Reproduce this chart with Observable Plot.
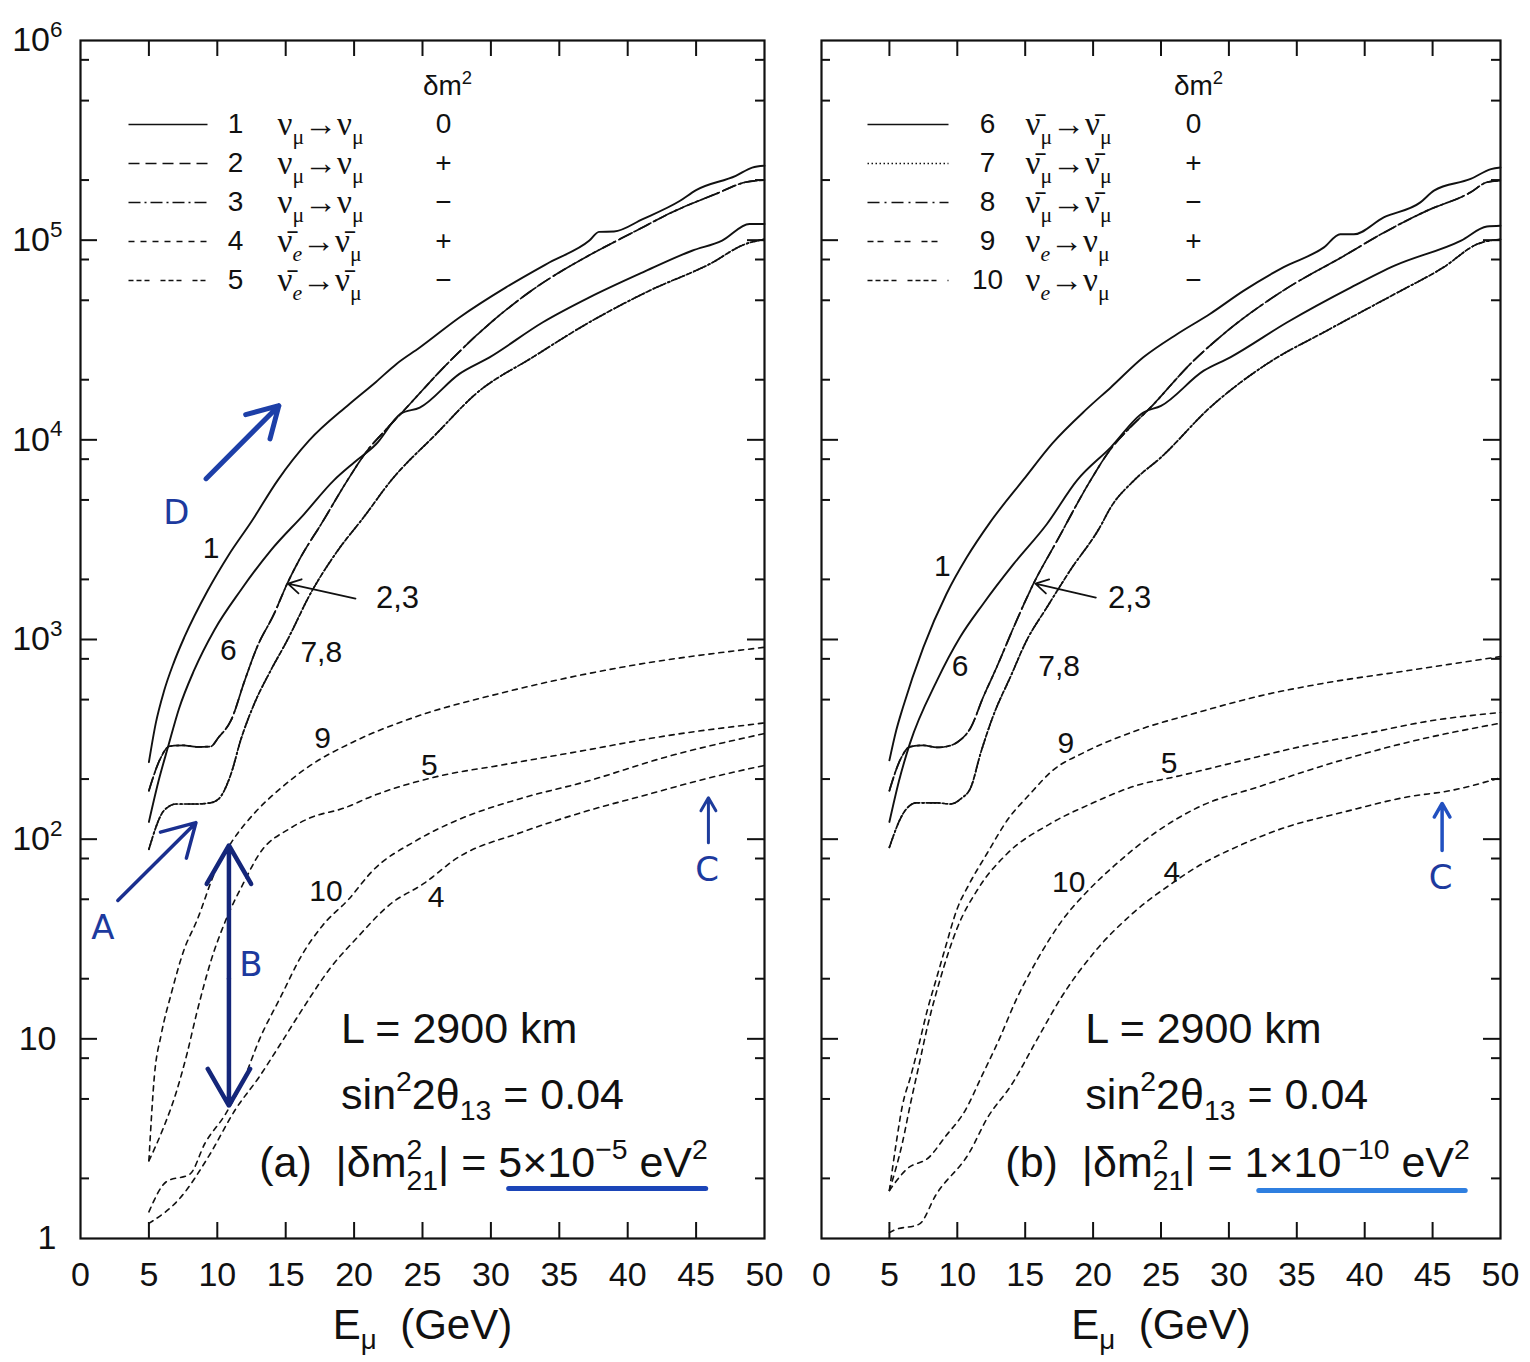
<!DOCTYPE html>
<html><head><meta charset="utf-8">
<script src="https://cdn.jsdelivr.net/npm/d3@7"></script>
<script src="https://cdn.jsdelivr.net/npm/@observablehq/plot@0.6"></script>
<style>
body{margin:0;background:#fff;}
#wrap{position:relative;width:1530px;height:1362px;background:#fff;}
#wrap svg{position:absolute;top:0;overflow:visible;}
</style></head><body><div id="wrap"></div>
<script>
// ---------- axis values ----------
const xTicks = [0,5,10,15,20,25,30,35,40,45,50];
const yMajor = [1,10,100,1e3,1e4,1e5,1e6];
const yMajorLabels = ["1","10","10{^2}","10{^3}","10{^4}","10{^5}","10{^6}"];
const yMinor = [1,10,100,1e3,1e4,1e5].flatMap(d => [2*d,5*d,8*d]);

// ---------- panel (a) curves: [E_mu (GeV), events] ----------
const a1 = [[5,243],[5.5,380],[6.1,550],[6.8,760],[7.6,1030],[9.3,1760],[10.8,2630],[12.5,3900],[14.4,6250],[16.7,9900],[19.6,15000],[21.6,19500],[23.1,24000],[24.8,29000],[27.7,41000],[31.1,58000],[34.3,77500],[37.2,99500],[37.9,110000],[39.0,110500],[41.1,127500],[43.8,157000],[45.0,178000],[47.9,210000],[49.1,231000],[50,236000]];
const a6 = [[5,122],[5.7,195],[6.4,290],[7.2,450],[8.3,700],[9.8,1120],[11.7,1760],[13.9,2790],[16.35,4250],[18.5,6250],[20.0,7700],[21.6,9500],[23.4,13500],[24.8,14500],[27.7,21400],[29.9,25900],[33.8,38800],[37.2,51700],[41.1,69000],[44.7,88500],[46.9,99500],[48.9,120500],[50,120500]];
const a23 = [[5,175],[5.8,250],[6.5,292],[7.5,295],[8.5,290],[9.5,291],[10.1,324],[11.0,393],[12.0,622],[12.9,914],[14.15,1343],[15.1,1897],[16.1,2584],[17.6,3790],[19.5,6250],[21.0,8900],[22.3,11200],[23.5,13700],[26.8,24000],[29.6,36600],[33.3,58000],[36.7,80500],[40.4,109500],[43.5,140600],[46.4,170000],[48.6,195000],[50,200000]];
const a78 = [[5,89],[6.1,139],[7.0,150],[8.5,150],[9.5,152],[10.1,159],[11.0,212],[11.7,312],[12.7,476],[13.9,699],[15.1,987],[16.8,1692],[18.8,2786],[20.7,4094],[22.7,6250],[26.0,10700],[28.9,17000],[33.05,25900],[37.2,38800],[41.6,55900],[46.0,76000],[48.6,95600],[50,101000]];
const a9 = [[5,2.45],[5.4,6.5],[5.9,10.5],[6.65,17],[7.55,27.7],[8.5,39],[10.0,73],[11.1,98],[12.8,137],[14.6,179],[16.8,234],[19.9,306],[24.5,410],[30.6,536],[39.9,733],[50,914]];
const a5 = [[5,2.45],[6.0,3.5],[7.0,5.4],[7.8,8.5],[8.5,13.5],[9.57,25],[10.6,39],[11.9,60],[13.1,85],[15.3,113],[16.8,128],[19.25,143],[21.4,165],[26.35,208],[30.6,234],[36.8,278],[42.9,330],[50,382]];
const a10 = [[5,1.36],[6.3,1.93],[8.0,2.1],[9.1,3.0],[10.6,4.2],[11.9,6.2],[13.1,10],[14.65,16.3],[16.2,26.4],[17.7,37],[19.6,50],[21.4,70],[24.5,98],[27.6,125],[32.2,160],[36.8,193],[42.9,259],[50,338]];
const a4 = [[5,1.19],[7.3,1.6],[9.4,2.6],[11.3,4.4],[13.1,6.5],[14.65,9.5],[16.2,14],[18.3,22.8],[20.2,32],[22.6,47],[25.1,60],[27.6,81],[32.2,108],[36.8,137],[41.4,167],[46,203],[50,234]];

// ---------- panel (b) curves ----------
const b1 = [[5,248],[5.5,350],[6.0,458],[7.5,914],[9.2,1690],[10.7,2580],[12.4,3850],[14.9,6350],[17.0,9600],[19.5,14200],[21.3,18300],[23.7,25900],[26.2,33900],[28.6,42700],[31.1,55900],[34.0,73100],[37.0,92000],[38.2,107000],[39.2,107000],[41.4,130000],[44.1,154600],[45.1,177000],[47.8,202500],[49.3,227000],[50,231000]];
const b6 = [[5,122],[5.7,195],[6.5,300],[8.5,622],[10.2,1026],[11.9,1507],[14.15,2390],[16.6,3790],[18.8,6250],[21.3,9170],[23.7,13700],[25.0,14800],[28.15,22200],[30.1,25900],[34.3,38800],[39.0,58000],[42.2,74500],[47.1,99500],[49.0,117000],[50,118000]];
const b23 = [[5,175],[5.8,250],[6.5,290],[7.5,295],[8.5,288],[9.3,292],[10.0,306],[11.0,363],[11.9,513],[12.9,726],[14.15,1151],[15.6,1897],[17.35,3127],[19.8,6250],[21.3,9000],[22.6,11300],[24.0,14000],[27.4,24900],[29.9,35200],[34.0,55900],[38.5,83600],[41.4,109000],[44.6,140600],[47.8,173600],[49.0,195000],[50,198600]];
const b78 = [[5,91],[6.0,134],[7.0,152],[8.5,152],[9.5,150],[10.3,160],[11.0,182],[11.7,267],[12.7,424],[13.9,647],[15.1,987],[16.6,1450],[18.3,2213],[20.5,3650],[21.3,4590],[23.0,6250],[25.0,8170],[28.6,14500],[32.8,24000],[37.2,35200],[42.2,53700],[45.8,73100],[48.3,95600],[50,101000]];
const b9 = [[5,1.74],[5.5,3.0],[5.95,4.6],[6.57,6.5],[7.2,9.5],[7.8,14],[8.44,19.8],[9.06,27.7],[10.0,45],[10.9,60],[12.2,85],[13.7,125],[15.3,167],[17.1,223],[19.3,271],[23.0,346],[27.7,431],[32.3,522],[37.0,604],[43.2,699],[50,821]];
const b5 = [[5,1.74],[5.95,3.0],[6.57,4.8],[7.2,7.5],[7.8,11.5],[8.75,20],[10.0,36],[11.5,56],[13.7,85],[16.8,119],[19.9,151],[23.0,184],[26.4,208],[30.8,246],[35.4,292],[40.1,338],[44.7,390],[50,431]];
const b10 = [[5,1.74],[6.26,2.22],[7.97,2.57],[9.06,3.2],[10.6,4.4],[11.8,6.5],[13.1,10],[14.3,15.5],[15.9,25],[17.7,39],[19.6,55],[21.5,73],[24.6,108],[27.7,144],[32.3,184],[37.0,234],[43.2,306],[50,381]];
const b4 = [[5,1.07],[5.34,1.1],[7.2,1.18],[8.44,1.66],[10.9,2.7],[12.2,4.0],[14.0,5.9],[15.9,10],[17.7,16.3],[20.2,27.7],[23.0,43],[25.8,60],[27.7,73],[30.8,93],[33.9,113],[38.5,137],[43.2,163],[46.3,175],[50,203]];

// ---------- legends (ν̄ written with a combining macron) ----------
const NUBAR = "\u03BD\u0304";
const legendA = [
  {id:1, process:"ν{_μ}→ν{_μ}", sign:"0"},
  {id:2, process:"ν{_μ}→ν{_μ}", sign:"+"},
  {id:3, process:"ν{_μ}→ν{_μ}", sign:"−"},
  {id:4, process:NUBAR+"{~e}→"+NUBAR+"{_μ}", sign:"+"},
  {id:5, process:NUBAR+"{~e}→"+NUBAR+"{_μ}", sign:"−"}
];
const legendB = [
  {id:6, process:NUBAR+"{_μ}→"+NUBAR+"{_μ}", sign:"0"},
  {id:7, process:NUBAR+"{_μ}→"+NUBAR+"{_μ}", sign:"+"},
  {id:8, process:NUBAR+"{_μ}→"+NUBAR+"{_μ}", sign:"−"},
  {id:9, process:"ν{~e}→ν{_μ}", sign:"+"},
  {id:10, process:"ν{~e}→ν{_μ}", sign:"−"}
];

// ---------- curve labels [E, value, text] ----------
const labelsA = [[9.55,2850,"1"],[10.8,880,"6"],[17.6,860,"7,8"],[17.7,319,"9"],[25.5,234,"5"],[17.95,55,"10"],[26.0,51,"4"]];
const labelsB = [[8.9,2317,"1"],[10.2,731,"6"],[17.5,731,"7,8"],[18.0,301,"9"],[25.6,239,"5"],[18.2,60.6,"10"],[25.8,68,"4"]];
const pointerA = {x1:20.1, y1:1602, x2:15.16, y2:1905, tx:21.6, ty:1620, text:"2,3"};
const pointerB = {x1:20.2, y1:1620, x2:15.75, y2:1905, tx:21.1, ty:1620, text:"2,3"};

const notesA = ["L = 2900 km", "sin{^2}2θ{_13} = 0.04", "(a)\u00a0\u00a0|δm{=2|21}|\u00a0= 5×10{^−5} eV{^2}"];
const notesB = ["L = 2900 km", "sin{^2}2θ{_13} = 0.04", "(b)\u00a0\u00a0|δm{=2|21}|\u00a0= 1×10{^−10} eV{^2}"];
const notePos = {A: [[19.05,11.2],[19.05,5.2],[13.06,2.38]], B: [[19.43,11.2],[19.43,5.2],[13.54,2.38]]};

// ---------- hand-drawn blue annotations ----------
const inkA = {
  arrows: [
    {x1:9.18,y1:6390,x2:14.5,y2:14830,w:5,c:"#1d3fa8"},
    {x1:2.73,y1:49.3,x2:8.44,y2:121,w:3.5,c:"#1a2f8f"},
    {x1:10.85,y1:20,x2:10.85,y2:93,w:4.5,c:"#14267a"},
    {x1:10.85,y1:20,x2:10.85,y2:4.63,w:4.5,c:"#14267a"},
    {x1:45.9,y1:96,x2:45.9,y2:161,w:3,c:"#1e3c9c"}
  ],
  letters: [[7.0,4320,"D"],[1.64,35.7,"A"],[12.45,23.3,"B"],[45.8,69.6,"C"]],
  underline: {x1:31.3,x2:45.7,y:1.78,c:"#1b45b8"}
};
const inkB = {
  arrows: [{x1:45.7,y1:87.7,x2:45.7,y2:151,w:3.5,c:"#2150c0"}],
  letters: [[45.6,63.5,"C"]],
  underline: {x1:32.2,x2:47.4,y:1.74,c:"#2f7fe0"}
};

// ---------- styles ----------
const curveStyle = {
  1:{w:1.9}, 6:{w:1.9},
  2:{w:1.7,dash:"14,5"}, 3:{w:1.7,dash:"13,4,2,4"},
  7:{w:1.7,dash:"1.5,2.5"}, 8:{w:1.7,dash:"12,4,2,4"},
  9:{w:1.6,dash:"5,5"}, 5:{w:1.6,dash:"5,5"}, 10:{w:1.6,dash:"5,5"}, 4:{w:1.6,dash:"5,5"}
};
const legendDash = {1:null,2:"11,6",3:"12,4,2,4",4:"6,6",5:"5,3,5,3,5,11",6:null,7:"1.5,2.5",8:"12,5,2,5",9:"6,4,6,11",10:"5,3,5,3,5,3,5,11"};

const SANS = "Liberation Sans, Arial, Helvetica, sans-serif";
const SERIF = "Liberation Serif, Times New Roman, serif";
const H = 1362, MT = 40, MB = 124;

function panel(cfg){
  const {W, mL, mR, curves, legend, leg, labels, pointer, notes, npos, ink, yLabels} = cfg;
  const fx = d3.scaleLinear([0,50],[mL, W-mR]);
  const fy = d3.scaleLog([1,1e6],[H-MB, MT]);
  const pw = W-mL-mR, ph = H-MT-MB;
  const marks = [];
  for (const [id, data] of curves) {
    const s = curveStyle[id];
    marks.push(Plot.line(data, {x: d=>d[0], y: d=>d[1], stroke:"#111", strokeWidth:s.w, strokeDasharray:s.dash, curve:"monotone-x"}));
  }
  marks.push(Plot.frame({stroke:"#111", strokeWidth:2.2}));
  const inner = xTicks.slice(1,-1);
  marks.push(Plot.ruleX(inner, {x:d=>d, insetTop: ph-16, stroke:"#111", strokeWidth:2}));
  marks.push(Plot.ruleX(inner, {x:d=>d, insetBottom: ph-16, stroke:"#111", strokeWidth:2}));
  const ymaj = yMajor.slice(1,-1);
  marks.push(Plot.ruleY(ymaj, {y:d=>d, insetRight: pw-17, stroke:"#111", strokeWidth:2}));
  marks.push(Plot.ruleY(ymaj, {y:d=>d, insetLeft: pw-17, stroke:"#111", strokeWidth:2}));
  marks.push(Plot.ruleY(yMinor, {y:d=>d, insetRight: pw-9, stroke:"#111", strokeWidth:2}));
  marks.push(Plot.ruleY(yMinor, {y:d=>d, insetLeft: pw-9, stroke:"#111", strokeWidth:2}));
  marks.push(Plot.text(xTicks, {x:d=>d, frameAnchor:"bottom", dy:47, text:d=>String(d), fontSize:34, fill:"#111"}));
  marks.push(Plot.text(["E{_μ}\u00a0\u00a0(GeV)"], {frameAnchor:"bottom", dy:100, fontSize:42, fill:"#111"}));
  if (yLabels) {
    const pw2 = yMajor.map((v,i)=>({v, t:yMajorLabels[i]}));
    marks.push(Plot.text(pw2.filter(d=>d.v>10), {y:d=>d.v, text:d=>d.t, frameAnchor:"left", dx:-18, textAnchor:"end", fontSize:34, fill:"#111"}));
    marks.push(Plot.text(pw2.filter(d=>d.v<=10), {y:d=>d.v, text:d=>d.t, frameAnchor:"left", dx:-24, textAnchor:"end", fontSize:34, fill:"#111"}));
  }
  const rowY = i => fy.invert(124 + 39*i);
  legend.forEach((r,i) => {
    marks.push(Plot.link([r], {x1: fx.invert(mL+leg.l0), x2: fx.invert(mL+leg.l1), y1: rowY(i), y2: rowY(i), stroke:"#111", strokeWidth:1.6, strokeDasharray: legendDash[r.id] || undefined}));
  });
  marks.push(Plot.text(legend, {x: fx.invert(mL+leg.num), y:(r,i)=>rowY(i), text:r=>String(r.id), fontSize:28, fill:"#111"}));
  marks.push(Plot.text(legend, {x: fx.invert(mL+leg.proc), y:(r,i)=>rowY(i), text:r=>r.process, textAnchor:"start", fontSize:33, fontFamily:SERIF, fill:"#111"}));
  marks.push(Plot.text(legend, {x: fx.invert(mL+leg.sign), y:(r,i)=>rowY(i), text:r=>r.sign, fontSize:28, fill:"#111"}));
  marks.push(Plot.text(["δm{^2}"], {x: fx.invert(mL+leg.head), y: fy.invert(86), fontSize:28, fill:"#111"}));
  marks.push(Plot.text(labels, {x:d=>d[0], y:d=>d[1], text:d=>d[2], fontSize:30, fill:"#111"}));
  marks.push(Plot.arrow([pointer], {x1:"x1", y1:"y1", x2:"x2", y2:"y2", stroke:"#111", strokeWidth:1.8, headLength:12}));
  marks.push(Plot.text([pointer], {x:"tx", y:"ty", text:"text", textAnchor:"start", fontSize:31, fill:"#111"}));
  marks.push(Plot.text(notes, {x:(d,i)=>npos[i][0], y:(d,i)=>npos[i][1], text:d=>d, textAnchor:"start", fontSize:43, fill:"#111"}));
  marks.push(Plot.link([ink.underline], {x1:"x1", x2:"x2", y1:"y", y2:"y", stroke: ink.underline.c, strokeWidth:5, strokeLinecap:"round"}));
  for (const a of ink.arrows) marks.push(Plot.arrow([a], {x1:"x1",y1:"y1",x2:"x2",y2:"y2", stroke:a.c, strokeWidth:a.w, headLength:16}));
  marks.push(Plot.text(ink.letters, {x:d=>d[0], y:d=>d[1], text:d=>d[2], fontSize:34, fill:"#1d3a9e", fontFamily:"DejaVu Sans, sans-serif"}));

  return Plot.plot({
    width: W, height: H, marginLeft: mL, marginRight: mR, marginTop: MT, marginBottom: MB,
    style: {fontFamily: SANS, background:"transparent", overflow:"visible"},
    x: {domain:[0,50], axis:null},
    y: {type:"log", domain:[1,1e6], axis:null},
    marks
  });
}

// turn {^sup}, {_sub}, {~italic sub} and {=sup|sub} markers into tspans
function richify(root){
  const NS = "http://www.w3.org/2000/svg";
  root.querySelectorAll("text").forEach(t => {
    const s = t.textContent;
    if (!s.includes("{")) return;
    const fs = parseFloat(getComputedStyle(t).fontSize);
    while (t.firstChild) t.removeChild(t.firstChild);
    const re = /\{([\^_~=])([^}]*)\}/g;
    let last = 0, m, shift = 0;
    const add = (txt, o={}) => {
      const sp = document.createElementNS(NS, "tspan");
      sp.textContent = txt;
      const target = o.shift || 0;
      if (target !== shift) { sp.setAttribute("dy", target - shift); shift = target; }
      if (o.small) sp.setAttribute("font-size", fs*0.66);
      if (o.italic) sp.setAttribute("font-style", "italic");
      if (o.dx) sp.setAttribute("dx", o.dx);
      t.appendChild(sp);
      return sp;
    };
    while ((m = re.exec(s))) {
      if (m.index > last) add(s.slice(last, m.index));
      const k = m[1], body = m[2];
      if (k === "^") add(body, {shift:-0.42*fs, small:true});
      else if (k === "_") add(body, {shift:0.26*fs, small:true});
      else if (k === "~") add(body, {shift:0.26*fs, small:true, italic:true});
      else {
        const [a,b] = body.split("|");
        const sp = add(a, {shift:-0.42*fs, small:true});
        const w = sp.getComputedTextLength();
        add(b, {shift:0.3*fs, small:true, dx:-w});
      }
      last = re.lastIndex;
    }
    if (last < s.length) add(s.slice(last));
  });
}

const wrap = document.getElementById("wrap");
const left = panel({W:770, mL:80, mR:6,
  curves:[[1,a1],[6,a6],[2,a23],[3,a23],[7,a78],[8,a78],[9,a9],[5,a5],[10,a10],[4,a4]],
  legend: legendA, leg:{l0:48, l1:127, num:155, proc:197, sign:363, head:367},
  labels: labelsA, pointer: pointerA, notes: notesA, npos: notePos.A, ink: inkA, yLabels:true});
left.style.left = "0px";
wrap.appendChild(left);
const right = panel({W:760, mL:51, mR:30,
  curves:[[1,b1],[6,b6],[2,b23],[3,b23],[7,b78],[8,b78],[9,b9],[5,b5],[10,b10],[4,b4]],
  legend: legendB, leg:{l0:46, l1:127, num:166, proc:204, sign:372, head:377},
  labels: labelsB, pointer: pointerB, notes: notesB, npos: notePos.B, ink: inkB, yLabels:false});
right.style.left = "770px";
wrap.appendChild(right);
richify(wrap);
</script></body></html>
